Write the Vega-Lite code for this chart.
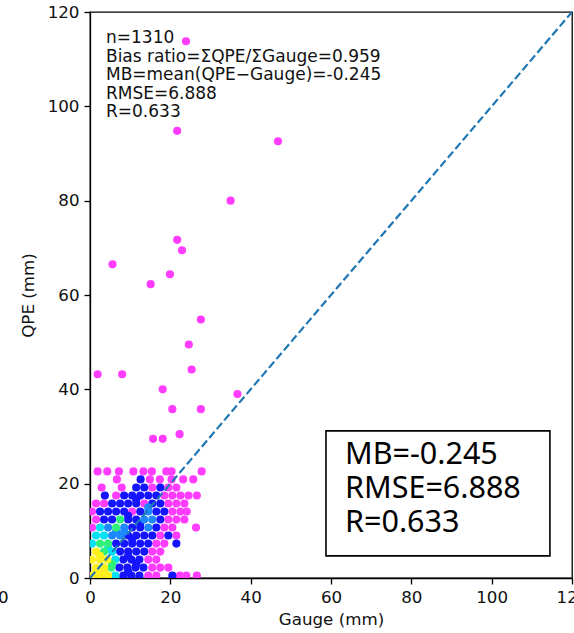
{
  "$schema": "https://vega.github.io/schema/vega-lite/v6.json",
  "width": 482,
  "height": 566,
  "autosize": {"type": "none"},
  "padding": {"left": 90, "top": 12, "right": 2, "bottom": 55},
  "background": "white",
  "config": {
    "view": {"stroke": "#000", "strokeWidth": 1.3},
    "font": "DejaVu Sans",
    "axis": {
      "grid": false,
      "labelFlush": false,
      "labelOverlap": false,
      "domainColor": "#000",
      "domainWidth": 1.3,
      "tickColor": "#000",
      "tickWidth": 1.3,
      "tickSize": 6,
      "labelFont": "DejaVu Sans",
      "labelFontSize": 16.7,
      "labelColor": "#111",
      "labelPadding": 5,
      "titleFont": "DejaVu Sans",
      "titleFontSize": 16.7,
      "titleFontWeight": "normal",
      "titleColor": "#111"
    }
  },
  "layer": [
    {
      "data": {
        "values": [
          {"g": 0.5, "q": 0.5, "d": 6}, {"g": 2.5, "q": 0.5, "d": 6}, {"g": 4.5, "q": 0.5, "d": 6}, {"g": 6.3, "q": 0.5, "d": 4}, {"g": 8.3, "q": 0.5, "d": 2}, {"g": 10.3, "q": 0.5, "d": 2}, {"g": 12.3, "q": 0.5, "d": 2}, {"g": 14.5, "q": 0.5, "d": 1}, {"g": 16.5, "q": 0.5, "d": 1}, {"g": 20.5, "q": 0.5, "d": 2}, {"g": 22.4, "q": 0.5, "d": 1}, {"g": 24.0, "q": 0.5, "d": 1}, {"g": 26.6, "q": 0.5, "d": 1},
          {"g": 1.5, "q": 2.2, "d": 6}, {"g": 3.5, "q": 2.2, "d": 6}, {"g": 5.3, "q": 2.2, "d": 5}, {"g": 7.3, "q": 2.2, "d": 2}, {"g": 9.3, "q": 2.2, "d": 2}, {"g": 11.3, "q": 2.2, "d": 2}, {"g": 13.3, "q": 2.2, "d": 2}, {"g": 15.5, "q": 2.2, "d": 1}, {"g": 17.5, "q": 2.2, "d": 1}, {"g": 19.5, "q": 2.2, "d": 1},
          {"g": 0.5, "q": 3.9, "d": 6}, {"g": 2.5, "q": 3.9, "d": 6}, {"g": 4.3, "q": 3.9, "d": 6}, {"g": 6.3, "q": 3.9, "d": 4}, {"g": 8.3, "q": 3.9, "d": 2}, {"g": 10.3, "q": 3.9, "d": 2}, {"g": 12.3, "q": 3.9, "d": 2}, {"g": 14.5, "q": 3.9, "d": 1}, {"g": 16.5, "q": 3.9, "d": 1},
          {"g": 1.5, "q": 5.6, "d": 6}, {"g": 3.5, "q": 5.6, "d": 5}, {"g": 5.5, "q": 5.6, "d": 4}, {"g": 7.5, "q": 5.6, "d": 2}, {"g": 9.5, "q": 5.6, "d": 2}, {"g": 11.5, "q": 5.6, "d": 2}, {"g": 13.5, "q": 5.6, "d": 2}, {"g": 15.5, "q": 5.6, "d": 1}, {"g": 17.5, "q": 5.6, "d": 1},
          {"g": 0.5, "q": 7.3, "d": 4}, {"g": 2.5, "q": 7.3, "d": 5}, {"g": 4.5, "q": 7.3, "d": 5}, {"g": 6.5, "q": 7.3, "d": 2}, {"g": 8.5, "q": 7.3, "d": 2}, {"g": 10.5, "q": 7.3, "d": 2}, {"g": 12.5, "q": 7.3, "d": 2}, {"g": 14.5, "q": 7.3, "d": 2}, {"g": 16.5, "q": 7.3, "d": 1}, {"g": 18.5, "q": 7.3, "d": 1}, {"g": 21.5, "q": 7.3, "d": 2},
          {"g": 1.5, "q": 9.0, "d": 4}, {"g": 3.5, "q": 9.0, "d": 4}, {"g": 5.5, "q": 9.0, "d": 3}, {"g": 7.5, "q": 9.0, "d": 3}, {"g": 9.5, "q": 9.0, "d": 2}, {"g": 11.5, "q": 9.0, "d": 2}, {"g": 13.5, "q": 9.0, "d": 2}, {"g": 15.5, "q": 9.0, "d": 2}, {"g": 17.5, "q": 9.0, "d": 1}, {"g": 19.5, "q": 9.0, "d": 2}, {"g": 21.5, "q": 9.0, "d": 1},
          {"g": 0.5, "q": 10.7, "d": 1}, {"g": 2.5, "q": 10.7, "d": 4}, {"g": 4.5, "q": 10.7, "d": 3}, {"g": 6.5, "q": 10.7, "d": 5}, {"g": 8.5, "q": 10.7, "d": 3}, {"g": 10.5, "q": 10.7, "d": 2}, {"g": 12.5, "q": 10.7, "d": 2}, {"g": 14.5, "q": 10.7, "d": 3}, {"g": 16.5, "q": 10.7, "d": 2}, {"g": 18.5, "q": 10.7, "d": 1}, {"g": 20.5, "q": 10.7, "d": 1}, {"g": 26.4, "q": 10.7, "d": 1},
          {"g": 1.5, "q": 12.4, "d": 1}, {"g": 3.5, "q": 12.4, "d": 2}, {"g": 5.5, "q": 12.4, "d": 2}, {"g": 7.5, "q": 12.4, "d": 5}, {"g": 9.5, "q": 12.4, "d": 2}, {"g": 11.5, "q": 12.4, "d": 2}, {"g": 13.5, "q": 12.4, "d": 3}, {"g": 15.5, "q": 12.4, "d": 3}, {"g": 17.5, "q": 12.4, "d": 2}, {"g": 19.5, "q": 12.4, "d": 1}, {"g": 21.5, "q": 12.4, "d": 1}, {"g": 23.5, "q": 12.4, "d": 1},
          {"g": 0.5, "q": 14.1, "d": 1}, {"g": 2.5, "q": 14.1, "d": 2}, {"g": 4.5, "q": 14.1, "d": 2}, {"g": 6.5, "q": 14.1, "d": 2}, {"g": 8.5, "q": 14.1, "d": 2}, {"g": 10.5, "q": 14.1, "d": 1}, {"g": 12.5, "q": 14.1, "d": 2}, {"g": 14.5, "q": 14.1, "d": 3}, {"g": 16.5, "q": 14.1, "d": 2}, {"g": 18.5, "q": 14.1, "d": 2}, {"g": 20.5, "q": 14.1, "d": 1}, {"g": 22.5, "q": 14.1, "d": 1}, {"g": 24.1, "q": 14.1, "d": 1},
          {"g": 1.5, "q": 15.8, "d": 1}, {"g": 3.5, "q": 15.8, "d": 1}, {"g": 5.5, "q": 15.8, "d": 2}, {"g": 7.5, "q": 15.8, "d": 2}, {"g": 9.5, "q": 15.8, "d": 2}, {"g": 11.5, "q": 15.8, "d": 2}, {"g": 13.5, "q": 15.8, "d": 1}, {"g": 15.5, "q": 15.8, "d": 2}, {"g": 17.5, "q": 15.8, "d": 2}, {"g": 19.5, "q": 15.8, "d": 1}, {"g": 21.5, "q": 15.8, "d": 1}, {"g": 23.5, "q": 15.8, "d": 1},
          {"g": 3.7, "q": 17.5, "d": 2}, {"g": 6.5, "q": 17.5, "d": 1}, {"g": 8.5, "q": 17.5, "d": 2}, {"g": 10.5, "q": 17.5, "d": 2}, {"g": 12.5, "q": 17.5, "d": 2}, {"g": 14.5, "q": 17.5, "d": 2}, {"g": 16.5, "q": 17.5, "d": 2}, {"g": 18.5, "q": 17.5, "d": 1}, {"g": 20.5, "q": 17.5, "d": 1}, {"g": 22.5, "q": 17.5, "d": 1}, {"g": 24.5, "q": 17.5, "d": 1}, {"g": 26.6, "q": 17.5, "d": 1},
          {"g": 2.9, "q": 19.2, "d": 1}, {"g": 7.9, "q": 19.2, "d": 1}, {"g": 11.5, "q": 19.2, "d": 2}, {"g": 13.5, "q": 19.2, "d": 2}, {"g": 15.5, "q": 19.2, "d": 1}, {"g": 17.5, "q": 19.2, "d": 2}, {"g": 19.5, "q": 19.2, "d": 1}, {"g": 21.5, "q": 19.2, "d": 1},
          {"g": 6.7, "q": 20.9, "d": 1}, {"g": 12.6, "q": 20.9, "d": 2}, {"g": 14.9, "q": 20.9, "d": 1}, {"g": 17.4, "q": 20.9, "d": 1}, {"g": 20.3, "q": 20.9, "d": 1}, {"g": 23.2, "q": 20.9, "d": 1}, {"g": 25.7, "q": 20.9, "d": 1},
          {"g": 1.9, "q": 22.6, "d": 1}, {"g": 4.3, "q": 22.6, "d": 1}, {"g": 7.2, "q": 22.6, "d": 1}, {"g": 10.8, "q": 22.6, "d": 1}, {"g": 13.3, "q": 22.6, "d": 1}, {"g": 15.4, "q": 22.6, "d": 1}, {"g": 19.0, "q": 22.6, "d": 1}, {"g": 20.3, "q": 22.6, "d": 1}, {"g": 27.8, "q": 22.6, "d": 1},
          {"g": 9.5, "q": 1.3, "d": 2}, {"g": 11.5, "q": 3.0, "d": 2}, {"g": 9.5, "q": 4.7, "d": 2}, {"g": 5.5, "q": 3.0, "d": 5}, {"g": 1.5, "q": 1.3, "d": 6}, {"g": 3.5, "q": 1.3, "d": 6}, {"g": 2.5, "q": 4.7, "d": 6}, {"g": 4.5, "q": 6.4, "d": 4}, {"g": 10.5, "q": 8.2, "d": 2}, {"g": 12.5, "q": 11.5, "d": 2}, {"g": 9.5, "q": 13.2, "d": 2}, {"g": 11.5, "q": 16.6, "d": 2}, {"g": 14.5, "q": 15.0, "d": 3}, {"g": 6.5, "q": 9.8, "d": 3}, {"g": 8.5, "q": 9.8, "d": 3},
          {"g": 23.9, "q": 113.8, "d": 1}, {"g": 46.8, "q": 92.6, "d": 1}, {"g": 21.7, "q": 94.8, "d": 1}, {"g": 35.0, "q": 80.0, "d": 1}, {"g": 21.7, "q": 71.7, "d": 1}, {"g": 22.9, "q": 69.5, "d": 1}, {"g": 5.6, "q": 66.5, "d": 1}, {"g": 19.9, "q": 64.4, "d": 1}, {"g": 15.1, "q": 62.3, "d": 1}, {"g": 27.6, "q": 54.8, "d": 1}, {"g": 24.6, "q": 49.5, "d": 1}, {"g": 1.9, "q": 43.2, "d": 1}, {"g": 8.0, "q": 43.2, "d": 1}, {"g": 25.3, "q": 44.2, "d": 1}, {"g": 18.1, "q": 40.0, "d": 1}, {"g": 36.7, "q": 39.0, "d": 1}, {"g": 20.5, "q": 35.8, "d": 1}, {"g": 27.6, "q": 35.8, "d": 1}, {"g": 15.7, "q": 29.5, "d": 1}, {"g": 18.1, "q": 29.5, "d": 1}, {"g": 22.3, "q": 30.5, "d": 1}
        ]
      },
      "mark": {"type": "circle", "size": 66, "opacity": 1, "clip": true},
      "encoding": {
        "x": {"field": "g", "type": "quantitative", "scale": {"domain": [0, 120], "nice": false}, "axis": {"title": "Gauge (mm)", "values": [0, 20, 40, 60, 80, 100, 120], "titlePadding": 6}},
        "y": {"field": "q", "type": "quantitative", "scale": {"domain": [0, 120], "nice": false}, "axis": {"title": "QPE (mm)", "values": [0, 20, 40, 60, 80, 100, 120], "titlePadding": 10}},
        "color": {"field": "d", "type": "ordinal", "scale": {"domain": [1, 2, 3, 4, 5, 6], "range": ["#ff3cff", "#1414ff", "#1e88ff", "#00e1f5", "#2ef07a", "#fff01e"]}, "legend": null},
        "order": {"field": "d", "type": "quantitative", "sort": "ascending"}
      }
    },
    {
      "data": {"values": [{"g": 0, "q": 0}, {"g": 120, "q": 120}]},
      "mark": {"type": "line", "color": "#1f77b4", "strokeWidth": 2.2, "strokeDash": [8, 3.5], "clip": true},
      "encoding": {
        "x": {"field": "g", "type": "quantitative"},
        "y": {"field": "q", "type": "quantitative"}
      }
    },
    {
      "data": {"values": [{"g1": 58.75, "g2": 114.5, "q1": 31.2, "q2": 4.7}]},
      "mark": {"type": "rect", "fill": "white", "stroke": "#000", "strokeWidth": 1.6},
      "encoding": {
        "x": {"field": "g1", "type": "quantitative"},
        "x2": {"field": "g2"},
        "y": {"field": "q1", "type": "quantitative"},
        "y2": {"field": "q2"}
      }
    },
    {
      "data": {"values": [
        {"t": "MB=-0.245", "g": 63.5, "q": 24.1},
        {"t": "RMSE=6.888", "g": 63.5, "q": 16.9},
        {"t": "R=0.633", "g": 63.5, "q": 9.8}
      ]},
      "mark": {"type": "text", "font": "Noto Sans", "fontSize": 30.5, "align": "left", "baseline": "alphabetic", "color": "#000"},
      "encoding": {
        "x": {"field": "g", "type": "quantitative"},
        "y": {"field": "q", "type": "quantitative"},
        "text": {"field": "t"}
      }
    },
    {
      "data": {"values": [
        {"t": "n=1310", "g": 3.98, "q": 113.4},
        {"t": "Bias ratio=ΣQPE/ΣGauge=0.959", "g": 3.98, "q": 109.5},
        {"t": "MB=mean(QPE−Gauge)=-0.245", "g": 3.98, "q": 105.6},
        {"t": "RMSE=6.888", "g": 3.98, "q": 101.6},
        {"t": "R=0.633", "g": 3.98, "q": 97.7}
      ]},
      "mark": {"type": "text", "font": "DejaVu Sans", "fontSize": 17, "align": "left", "baseline": "alphabetic", "color": "#111"},
      "encoding": {
        "x": {"field": "g", "type": "quantitative"},
        "y": {"field": "q", "type": "quantitative"},
        "text": {"field": "t"}
      }
    },
    {
      "data": {"values": [{"t": "0", "g": -21.6, "q": -4.2}]},
      "mark": {"type": "text", "font": "DejaVu Sans", "fontSize": 16.7, "align": "center", "baseline": "middle", "color": "#111"},
      "encoding": {
        "x": {"field": "g", "type": "quantitative"},
        "y": {"field": "q", "type": "quantitative"},
        "text": {"field": "t"}
      }
    }
  ]
}
